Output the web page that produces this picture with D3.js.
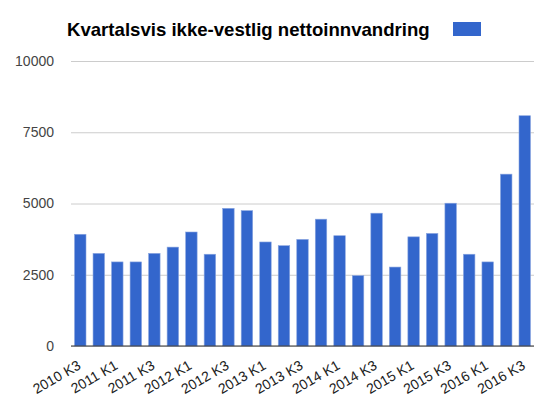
<!DOCTYPE html>
<html>
<head>
<meta charset="utf-8">
<script src="https://cdn.jsdelivr.net/npm/d3@7"></script>
<style>
    body { margin: 0; background: #fff; }
    text { font-family: "Liberation Sans", Arial, sans-serif; }
</style>
</head>
<body>
<svg></svg>
<script>
(function() {

    const quarters = [
        '2010 K3', '2010 K4',
        '2011 K1', '2011 K2', '2011 K3', '2011 K4',
        '2012 K1', '2012 K2', '2012 K3', '2012 K4',
        '2013 K1', '2013 K2', '2013 K3', '2013 K4',
        '2014 K1', '2014 K2', '2014 K3', '2014 K4',
        '2015 K1', '2015 K2', '2015 K3', '2015 K4',
        '2016 K1', '2016 K2', '2016 K3'
    ];
    const values = [
        3920, 3250,
        2950, 2950, 3250, 3470,
        4000, 3220, 4830, 4750,
        3650, 3520, 3740, 4450,
        3870, 2470, 4660, 2770,
        3830, 3950, 5010, 3220,
        2950, 6030, 8080
    ];
    const yTicks = [0, 2500, 5000, 7500, 10000];
    const title = 'Kvartalsvis ikke-vestlig nettoinnvandring';

    const w = 560;
    const h = 402;
    const left = 71, right = 534, top = 61, bottom = 346;

    const svg = d3.select('svg')
        .attr('width', w)
        .attr('height', h);

    const x = d3.scaleBand()
        .domain(quarters)
        .range([left, right])
        .paddingInner(0.38)
        .paddingOuter(0.19);

    const y = d3.scaleLinear()
        .domain([0, 10000])
        .range([bottom, top]);

    // gridlines + y labels
    const yAxis = svg.append('g')
        .attr('transform', `translate(${ left }, 0)`)
        .call(d3.axisLeft(y).tickValues(yTicks).tickSize(-(right - left)).tickFormat(d => d));
    yAxis.select('.domain').remove();
    yAxis.selectAll('line').attr('stroke', '#cccccc');
    yAxis.selectAll('text')
        .attr('x', -17)
        .attr('fill', '#444')
        .style('font-size', '14px');

    svg.append('g')
        .selectAll('rect')
        .data(values)
        .enter()
        .append('rect')
        .attr('x', (d, i) => x(quarters[i]))
        .attr('y', d => y(d))
        .attr('width', x.bandwidth())
        .attr('height', d => y(0) - y(d))
        .attr('fill', '#3366cc')
        .attr('stroke', '#8aa6e0')
        .attr('stroke-width', 0.6);

    // baseline
    svg.append('line')
        .attr('x1', left).attr('x2', right)
        .attr('y1', y(0)).attr('y2', y(0))
        .attr('stroke', '#333')
        .attr('stroke-width', 1.2);

    // x labels, every other quarter
    const xAxis = svg.append('g')
        .attr('transform', `translate(0, ${ bottom })`)
        .call(d3.axisBottom(x).tickValues(quarters.filter((q, i) => i % 2 === 0)).tickSize(0));
    xAxis.select('.domain').remove();
    xAxis.selectAll('text')
        .attr('fill', '#222')
        .style('font-size', '14px')
        .attr('text-anchor', 'end')
        .attr('transform', 'translate(-5, 11) rotate(-30)')
        .attr('dy', '0.71em');

    svg.append('text')
        .attr('x', 67)
        .attr('y', 36)
        .style('font-size', '18.6px')
        .style('font-weight', 'bold')
        .attr('fill', '#000')
        .text(title);

    svg.append('rect')
        .attr('x', 453)
        .attr('y', 22)
        .attr('width', 28)
        .attr('height', 14)
        .attr('fill', '#3366cc');

})();
</script>
</body>
</html>
